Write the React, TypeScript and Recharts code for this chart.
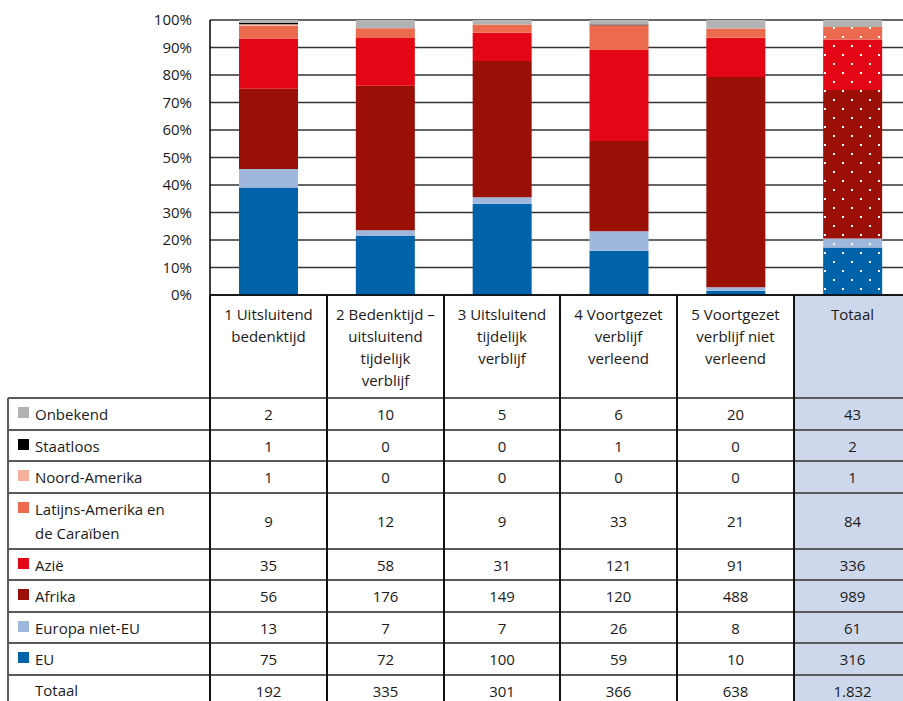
import React from "react";
import { BarChart, Bar, XAxis, YAxis, CartesianGrid, ReferenceLine, Cell } from "recharts";

// column headers (line breaks as in the source table)
const HEADER_LINES = [
  ["1 Uitsluitend", "bedenktijd"],
  ["2 Bedenktijd –", "uitsluitend", "tijdelijk", "verblijf"],
  ["3 Uitsluitend", "tijdelijk", "verblijf"],
  ["4 Voortgezet", "verblijf", "verleend"],
  ["5 Voortgezet", "verblijf niet", "verleend"],
  ["Totaal"],
];

const ONBEKEND = [2, 10, 5, 6, 20, 43];
const STAATLOOS = [1, 0, 0, 1, 0, 2];
const NOORD_AMERIKA = [1, 0, 0, 0, 0, 1];
const LATIJNS_AMERIKA = [9, 12, 9, 33, 21, 84];
const AZIE = [35, 58, 31, 121, 91, 336];
const AFRIKA = [56, 176, 149, 120, 488, 989];
const EUROPA_NIET_EU = [13, 7, 7, 26, 8, 61];
const EU = [75, 72, 100, 59, 10, 316];
const TOTAAL = ["192", "335", "301", "366", "638", "1.832"];

const Y_TICKS = [0, 0.1, 0.2, 0.3, 0.4, 0.5, 0.6, 0.7, 0.8, 0.9, 1];

// stack order bottom -> top
const SERIES = [
  { key: "eu", label: "EU", color: "#0062A8", values: EU },
  { key: "europa", label: "Europa niet-EU", color: "#A0B7DD", values: EUROPA_NIET_EU },
  { key: "afrika", label: "Afrika", color: "#9A1006", values: AFRIKA },
  { key: "azie", label: "Azië", color: "#E30715", values: AZIE },
  { key: "latijns", label: ["Latijns-Amerika en", "de Caraïben"], color: "#EC6A4D", values: LATIJNS_AMERIKA },
  { key: "noord", label: "Noord-Amerika", color: "#F5B09B", values: NOORD_AMERIKA },
  { key: "staatloos", label: "Staatloos", color: "#000000", values: STAATLOOS },
  { key: "onbekend", label: "Onbekend", color: "#B3B3B3", values: ONBEKEND },
];

const data = HEADER_LINES.map((lines, i) => {
  const row: Record<string, any> = { name: lines.join(" ") };
  SERIES.forEach((s) => (row[s.key] = s.values[i]));
  return row;
});

const FONT = "'Open Sans', sans-serif";
const COL_EDGES = [8, 210, 327, 444, 560, 677, 794, 911];
const HEADER_TOP = 295;
const HEADER_BOTTOM = 398;
const ROW_HEIGHTS = [32, 31, 32, 56, 31, 32, 31, 32, 32];
const TEXT = "#1a1a1a";

const DataTable = () => {
  const tableRows = [...SERIES].reverse();
  const tops: number[] = [];
  let y = HEADER_BOTTOM;
  ROW_HEIGHTS.forEach((h) => {
    tops.push(y);
    y += h;
  });

  return (
    <>
      {/* header cells */}
      {HEADER_LINES.map((lines, i) => (
        <div
          key={`h-${i}`}
          style={{
            position: "absolute",
            left: COL_EDGES[i + 1],
            top: HEADER_TOP + 8,
            width: COL_EDGES[i + 2] - COL_EDGES[i + 1],
            textAlign: "center",
            fontSize: 15,
            lineHeight: "22px",
            color: TEXT,
          }}
        >
          {lines.map((l, j) => (
            <div key={j}>{l}</div>
          ))}
        </div>
      ))}

      {/* body rows */}
      {tableRows.map((s, r) => (
        <React.Fragment key={s.key}>
          <div
            style={{
              position: "absolute",
              left: 18,
              top: tops[r] + 9,
              width: 11,
              height: 11,
              background: s.color,
            }}
          />
          <div
            style={{
              position: "absolute",
              left: 35,
              top: tops[r] + 4,
              fontSize: 15,
              lineHeight: "24px",
              color: TEXT,
            }}
          >
            {(Array.isArray(s.label) ? s.label : [s.label]).map((l, j) => (
              <div key={j}>{l}</div>
            ))}
          </div>
          {s.values.map((v, c) => (
            <div
              key={c}
              style={{
                position: "absolute",
                left: COL_EDGES[c + 1],
                top: tops[r],
                width: COL_EDGES[c + 2] - COL_EDGES[c + 1],
                height: ROW_HEIGHTS[r],
                display: "flex",
                alignItems: "center",
                justifyContent: "center",
                fontSize: 15,
                color: TEXT,
              }}
            >
              {v}
            </div>
          ))}
        </React.Fragment>
      ))}

      {/* totals row */}
      <div
        style={{ position: "absolute", left: 35, top: tops[8] + 3, fontSize: 15, lineHeight: "24px", color: TEXT }}
      >
        Totaal
      </div>
      {TOTAAL.map((v, c) => (
        <div
          key={`t-${c}`}
          style={{
            position: "absolute",
            left: COL_EDGES[c + 1],
            top: tops[8],
            width: COL_EDGES[c + 2] - COL_EDGES[c + 1],
            height: ROW_HEIGHTS[8],
            display: "flex",
            alignItems: "center",
            justifyContent: "center",
            fontSize: 15,
            color: TEXT,
          }}
        >
          {v}
        </div>
      ))}

      {/* horizontal rules */}
      {tops.map((t, i) => (
        <div
          key={`hl-${i}`}
          style={{ position: "absolute", left: 8, top: t - 1, width: 903, height: 2, background: "#5a5a5a" }}
        />
      ))}
      {/* vertical rules */}
      <div style={{ position: "absolute", left: 7, top: HEADER_BOTTOM, width: 2, height: 310, background: "#5a5a5a" }} />
      {COL_EDGES.slice(1, 7).map((x, i) => (
        <div
          key={`vl-${i}`}
          style={{ position: "absolute", left: x - 1, top: HEADER_TOP, width: 2, height: 410, background: "#111" }}
        />
      ))}
    </>
  );
};

const App = () => {
  return (
    <div
      style={{
        position: "absolute",
        left: 0,
        top: 0,
        width: 903,
        height: 701,
        overflow: "hidden",
        background: "#fff",
        fontFamily: FONT,
      }}
    >
      {/* Totaal column background */}
      <div
        style={{ position: "absolute", left: 794, top: 295, width: 117, height: 406, background: "#CDD8EC" }}
      />
      <div style={{ position: "absolute", left: 0, top: 0 }}>
        <BarChart
          width={911}
          height={310}
          data={data}
          stackOffset="expand"
          margin={{ top: 20, right: 0, bottom: 15, left: 0 }}
        >
          <defs>
            {SERIES.map((s) => (
              <pattern
                key={s.key}
                id={`dots-${s.key}`}
                width={18}
                height={18}
                patternUnits="userSpaceOnUse"
              >
                <rect width={18} height={18} fill={s.color} />
                <rect x={5} y={9} width={2} height={2} fill="#fff" />
                <rect x={14} y={0} width={2} height={2} fill="#fff" />
              </pattern>
            ))}
          </defs>
          <CartesianGrid vertical={false} stroke="#333" strokeWidth={1.5} />
          <XAxis dataKey="name" hide />
          <YAxis
            width={210}
            domain={[0, 1]}
            ticks={Y_TICKS}
            tickFormatter={(v: number) => `${Math.round(v * 100)}%`}
            tickLine={false}
            tickSize={6}
            tickMargin={12}
            axisLine={{ stroke: "#000", strokeWidth: 1.5 }}
            tick={{ fontSize: 15, fill: TEXT, fontFamily: FONT }}
            interval={0}
          />
          {SERIES.map((s) => (
            <Bar key={s.key} dataKey={s.key} stackId="a" fill={s.color} barSize={59} isAnimationActive={false}>
              {data.map((_, i) => (
                <Cell key={`c-${i}`} fill={i === 5 ? `url(#dots-${s.key})` : s.color} />
              ))}
            </Bar>
          ))}
          <ReferenceLine y={0} stroke="#000" strokeWidth={1.5} />
        </BarChart>
      </div>
      <DataTable />
    </div>
  );
};

export default App;
